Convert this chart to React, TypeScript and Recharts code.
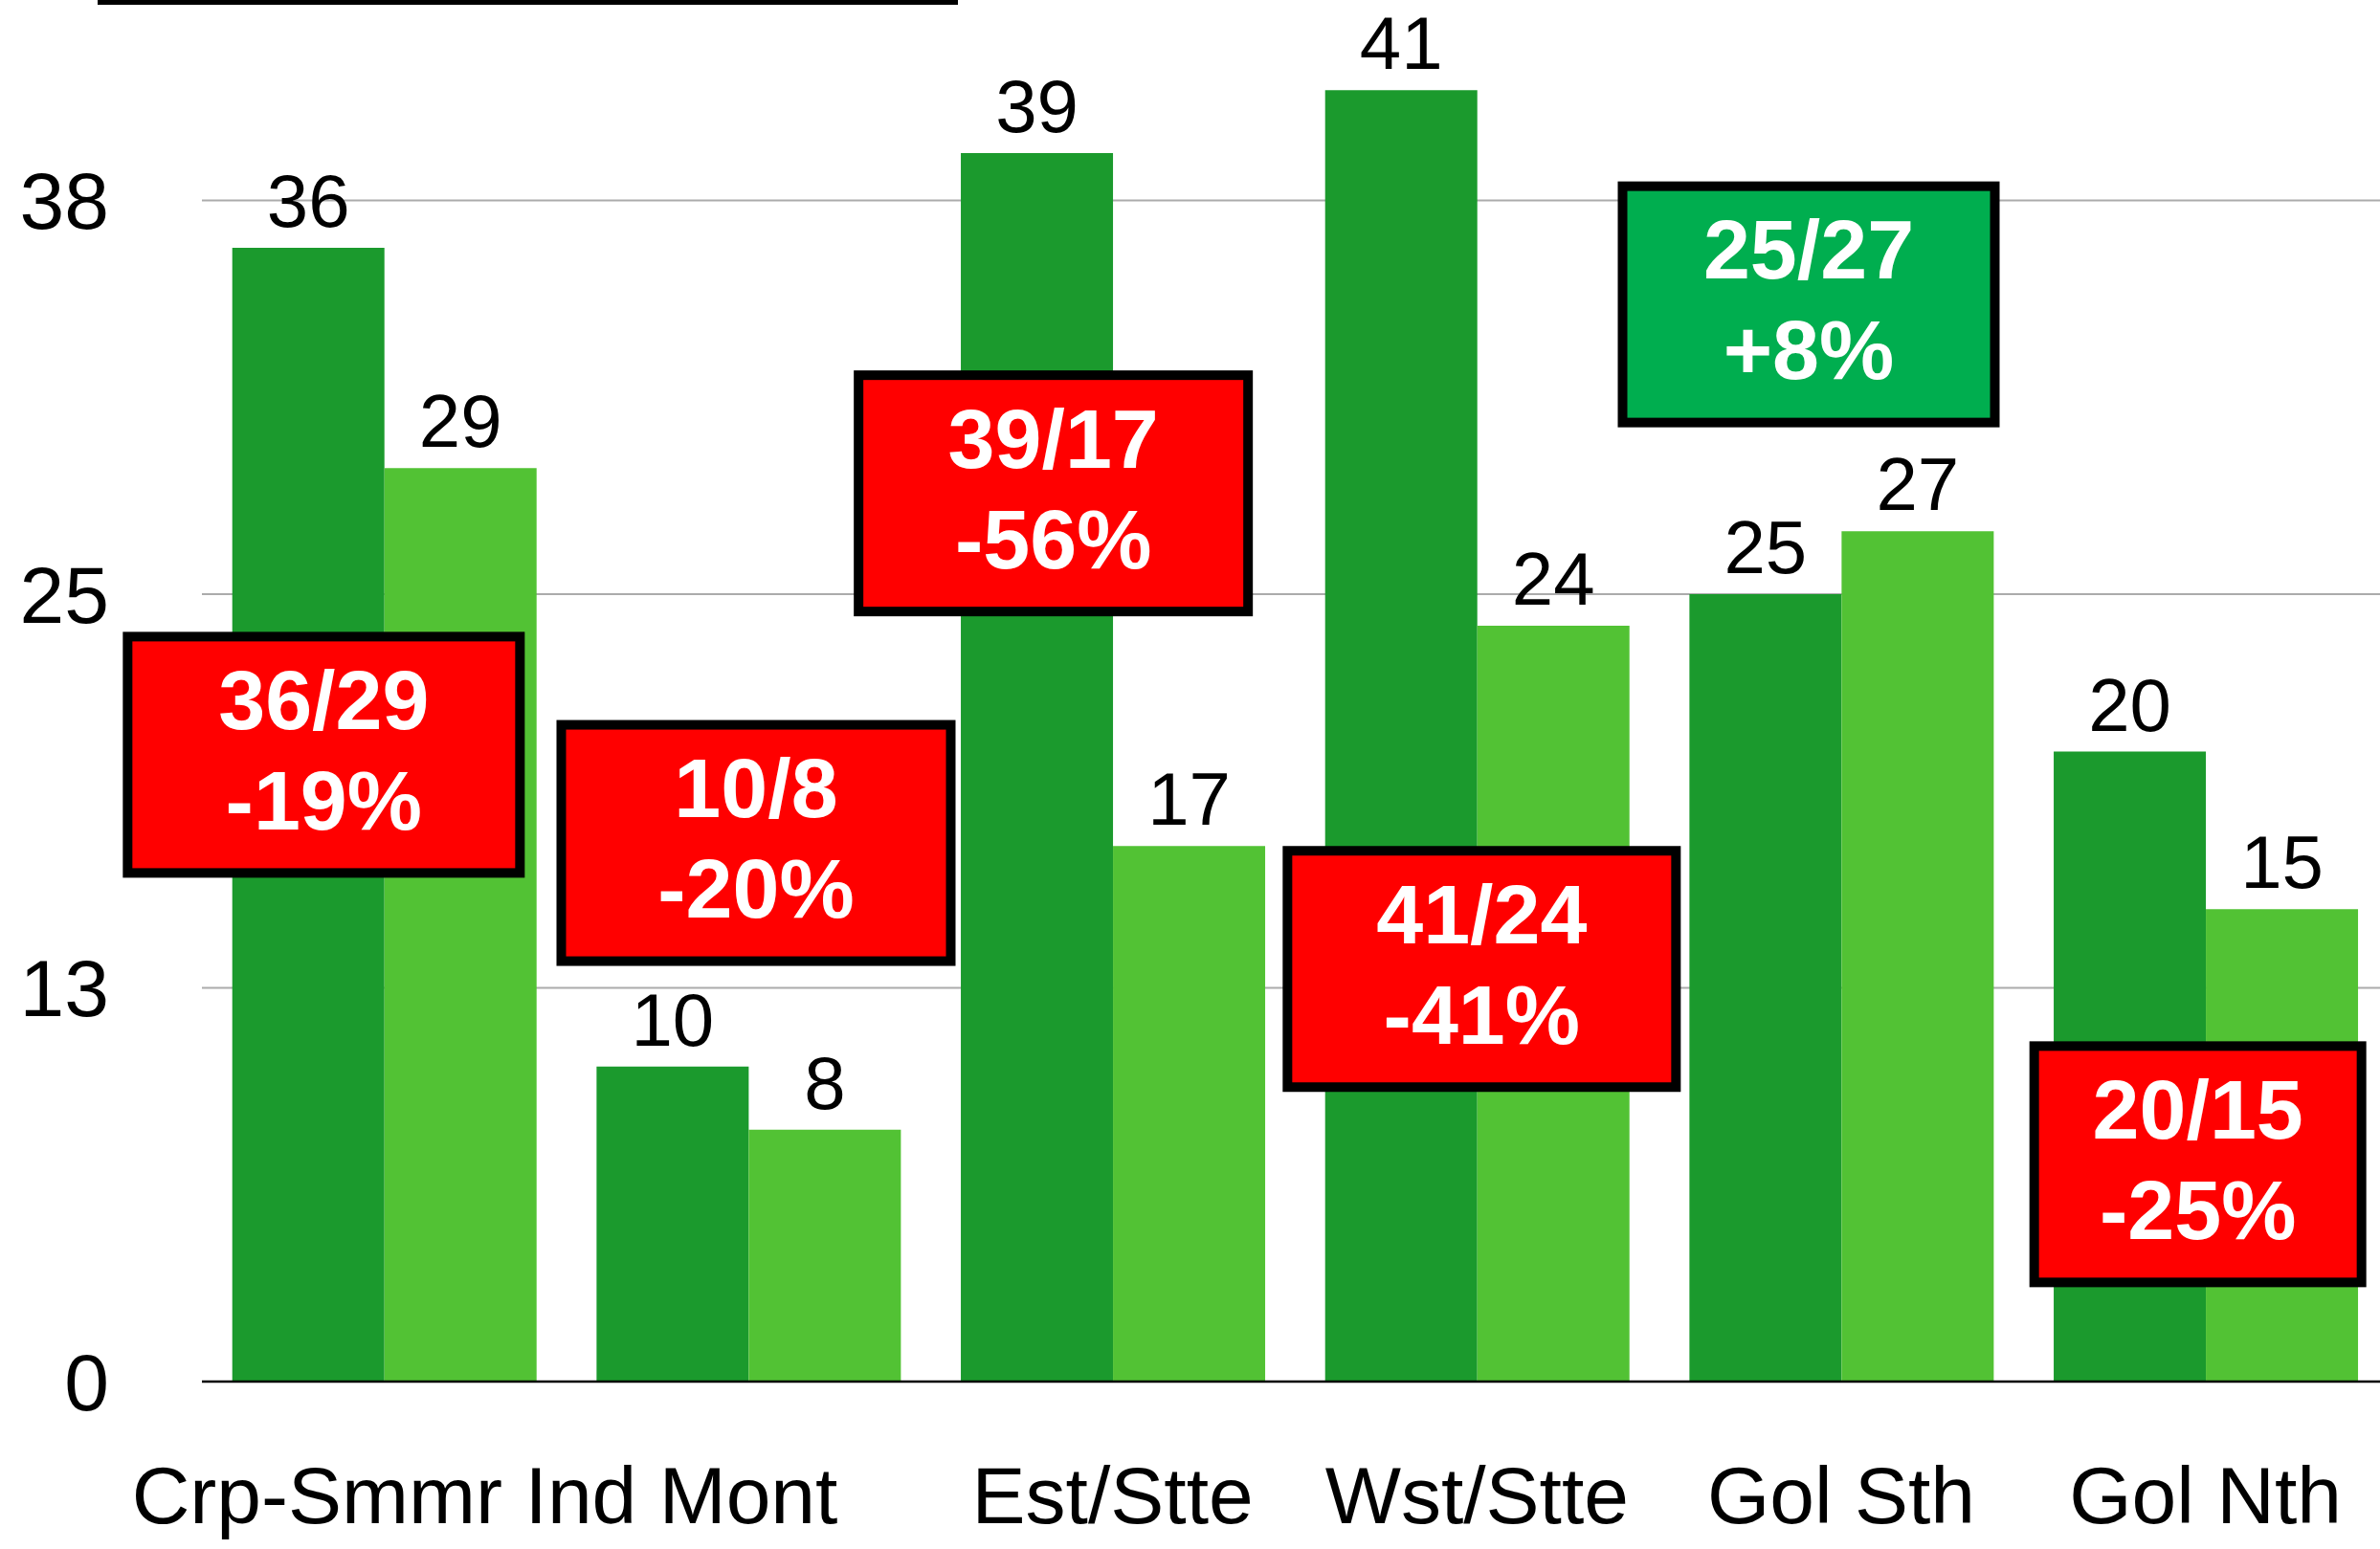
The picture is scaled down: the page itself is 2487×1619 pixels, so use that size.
import { BarChart, Bar, XAxis, YAxis, CartesianGrid, LabelList, ReferenceDot } from "recharts";

const regions = ["Crp-Smmr", "Ind Mont", "Est/Stte", "Wst/Stte", "Gol Sth", "Gol Nth"];
const before = [36, 10, 39, 41, 25, 20];
const after = [29, 8, 17, 24, 27, 15];
const yTicks = [0, 12.5, 25, 37.5];

const noteRatio = ["36/29", "10/8", "39/17", "41/24", "25/27", "20/15"];
const noteChange = ["-19%", "-20%", "-56%", "-41%", "+8%", "-25%"];
const noteLevel = [19.9, 17.1, 28.2, 13.1, 34.2, 6.9];

// box layout in px: [shift from group centre, width]
const noteBox = [
  [-63, 420],
  [8, 417],
  [-62, 417],
  [5, 416],
  [-34, 399],
  [-8, 352],
];

const data = regions.map((region, i) => ({ region, before: before[i], after: after[i] }));

const FONT = '"Liberation Sans", Arial, Helvetica, sans-serif';

function RegionTick({ x, y, payload, index }: any) {
  // the first two labels collide in the original and were nudged left
  const shift = index < 2 ? -70 : 0;
  return (
    <text x={x + shift} y={y} dy="0.71em" textAnchor="middle" fontSize={84} fill="#000">
      {payload.value}
    </text>
  );
}

function noteShape(i: number) {
  return ({ cx, cy }: any) => {
    const [dx, w] = noteBox[i];
    const h = 257;
    const cxx = cx + dx;
    const good = noteChange[i].startsWith("+");
    return (
      <g>
        <rect
          x={cxx - w / 2 + 5}
          y={cy - h / 2 + 5}
          width={w - 10}
          height={h - 10}
          fill={good ? "#00ae4f" : "#ff0000"}
          stroke="#000"
          strokeWidth={10}
        />
        <text x={cxx} y={cy - 27} textAnchor="middle" fontSize={88} fontWeight="bold" fill="#fff">
          {noteRatio[i]}
        </text>
        <text x={cxx} y={cy + 78} textAnchor="middle" fontSize={88} fontWeight="bold" fill="#fff">
          {noteChange[i]}
        </text>
      </g>
    );
  };
}

export default function App() {
  return (
    <div
      style={{
        position: "absolute",
        left: 0,
        top: 0,
        width: 2487,
        height: 1619,
        overflow: "hidden",
        background: "#fff",
        fontFamily: FONT,
      }}
    >
      <div style={{ position: "absolute", left: 102, top: 0, width: 899, height: 5, background: "#000" }} />
      <div style={{ position: "absolute", left: 0, top: -202 }}>
        <BarChart
          width={2500}
          height={1821}
          data={data}
          margin={{ top: 0, right: 5, left: 0, bottom: 0 }}
          barGap={0}
          barCategoryGap="8.33%"
        >
          <CartesianGrid vertical={false} stroke="#ababab" strokeWidth={2} />
          <XAxis
            dataKey="region"
            height={175}
            axisLine={{ stroke: "#000", strokeWidth: 2.5 }}
            tickLine={false}
            tickSize={0}
            tickMargin={88}
            interval={0}
            tick={<RegionTick />}
          />
          <YAxis
            width={211}
            domain={[0, 50]}
            ticks={yTicks}
            axisLine={false}
            tickLine={false}
            tickSize={0}
            tickMargin={97}
            tick={{ fontSize: 84, fill: "#000" }}
            tickFormatter={(v: number) => String(Math.round(v))}
          />
          <Bar dataKey="before" fill="#1b9a2d" isAnimationActive={false}>
            <LabelList dataKey="before" position="top" offset={22} fill="#000" fontSize={78} />
          </Bar>
          <Bar dataKey="after" fill="#52c234" isAnimationActive={false}>
            <LabelList dataKey="after" position="top" offset={22} fill="#000" fontSize={78} />
          </Bar>
          {regions.map((r, i) => (
            <ReferenceDot key={r} x={r} y={noteLevel[i]} r={1} shape={noteShape(i)} ifOverflow="visible" />
          ))}
        </BarChart>
      </div>
    </div>
  );
}
